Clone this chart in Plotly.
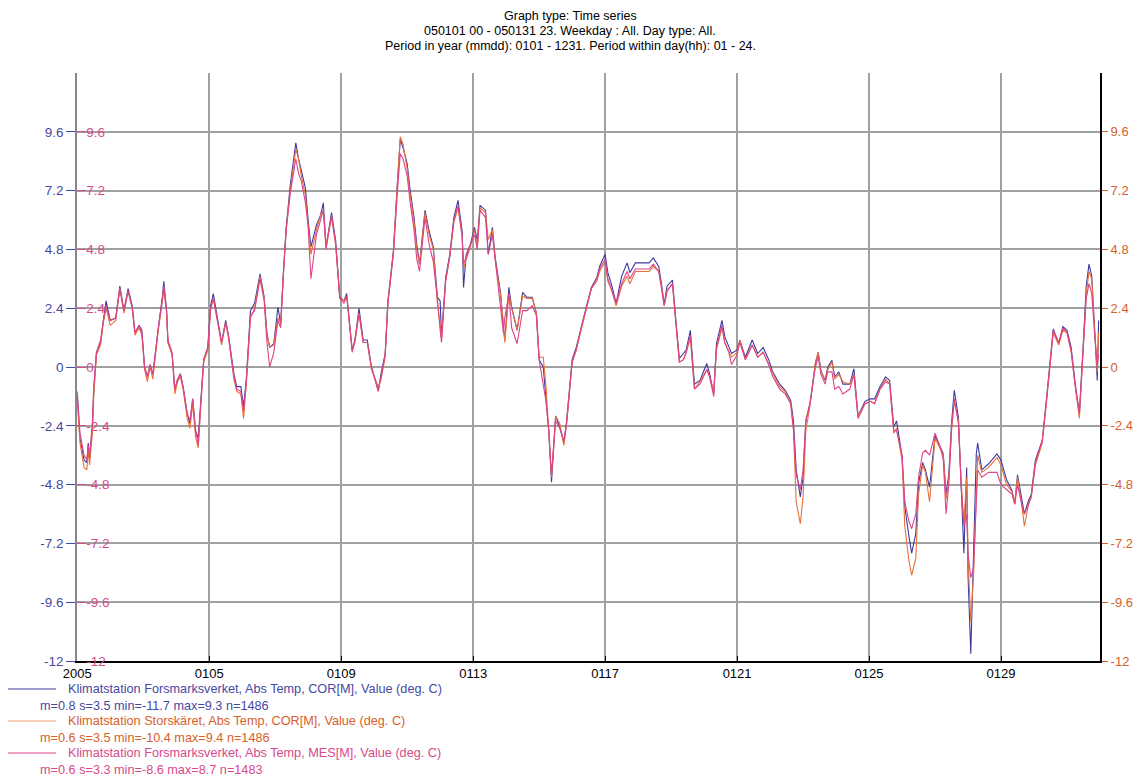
import pandas as pd
import plotly.graph_objects as go

# hours after 2005-01-01 00:00 (deg. C)
HOURS = [
    0, 2, 5, 7, 8, 9, 11, 12, 14, 17, 19, 21, 24, 28, 31, 34, 37, 40, 42, 45,
    47, 49, 51, 53, 55, 57, 59, 62, 63, 65, 66, 69, 71, 73, 75, 77, 80, 82, 84, 86,
    88, 90, 92, 95, 97, 99, 102, 105, 108, 110, 114, 116, 119, 121, 123, 126, 129, 133, 136, 138,
    140, 143, 146, 148, 150, 152, 155, 159, 161, 163, 166, 168, 170, 174, 177, 179, 181, 185, 188, 191,
    194, 196, 200, 202, 205, 208, 211, 214, 219, 221, 224, 226, 230, 233, 235, 237, 240, 242, 245, 247,
    249, 253, 256, 259, 262, 264, 265, 268, 271, 274, 277, 280, 281, 283, 286, 289, 291, 293, 297, 299,
    302, 304, 308, 310, 311, 314, 316, 320, 324, 327, 331, 334, 336, 339, 341, 343, 345, 348, 351, 354,
    356, 360, 363, 367, 371, 374, 378, 380, 384, 386, 389, 392, 396, 400, 402, 406, 411, 416, 419, 423,
    425, 427, 429, 433, 435, 438, 441, 443, 446, 448, 449, 453, 458, 460, 463, 465, 469, 471, 474, 476,
    480, 482, 486, 491, 495, 499, 503, 506, 508, 511, 515, 519, 521, 523, 526, 528, 530, 533, 537, 539,
    541, 544, 546, 549, 551, 554, 557, 562, 565, 568, 573, 577, 580, 584, 588, 591, 594, 596, 600, 602,
    605, 607, 610, 612, 615, 617, 620, 624, 628, 630, 632, 634, 636, 638, 641, 643, 645, 647, 648, 650,
    652, 654, 655, 658, 663, 669, 672, 676, 680, 682, 684, 687, 689, 692, 694, 697, 702, 705, 708, 710,
    714, 717, 720, 723, 726, 729, 732, 734, 736, 738, 740, 742, 743,
]

FORSMARK_COR = [
    -1.1, -2.9, -3.8, -3.9, -3.1, -3.7, -2.5, -1.0, 0.6, 1.0, 1.9, 2.7, 1.9, 2.0, 3.3, 2.3, 3.2, 2.5, 1.4, 1.7,
    1.5, 0.0, -0.4, 0.1, -0.3, 0.7, 1.6, 2.9, 3.5, 2.3, 1.0, 0.55, -0.95, -0.5, -0.27, -0.8, -1.9, -2.3, -1.3, -2.6,
    -2.9, -1.3, 0.3, 0.8, 2.5, 3.0, 2.0, 1.0, 1.9, 1.3, -0.3, -0.8, -0.8, -1.6, -0.5, 2.3, 2.6, 3.8, 2.85, 1.35,
    0.8, 0.95, 2.45, 1.75, 3.9, 5.7, 7.45, 9.15, 8.5, 8.0, 7.3, 6.0, 4.9, 5.8, 6.2, 6.7, 4.9, 6.3, 5.15, 2.85,
    2.7, 3.0, 0.7, 1.1, 2.4, 1.1, 1.1, 0.0, -0.95, -0.27, 0.55, 2.7, 4.75, 7.6, 9.3, 8.95, 8.3, 7.3, 6.1, 5.0,
    4.2, 6.4, 5.55, 4.9, 2.85, 2.7, 1.2, 3.65, 4.6, 6.1, 6.8, 5.55, 3.25, 4.6, 5.0, 5.7, 5.15, 6.6, 6.4, 4.6,
    5.7, 4.5, 3.0, 1.6, 1.1, 3.25, 2.45, 1.5, 3.05, 2.85, 2.85, 2.2, 0.3, 0.0, -1.2, -2.6, -4.7, -2.0, -2.45, -3.1,
    -2.2, 0.3, 0.8, 1.75, 2.6, 3.25, 3.65, 4.1, 4.6, 3.85, 3.3, 2.6, 3.7, 4.25, 3.85, 4.25, 4.25, 4.25, 4.45, 4.1,
    3.4, 2.55, 3.3, 3.55, 2.2, 0.35, 0.55, 0.7, 1.5, 0.14, -0.7, -0.55, 0.14, -0.27, -1.1, 0.95, 1.9, 1.25, 0.8, 0.55,
    0.7, 1.1, 0.4, 1.1, 0.55, 0.8, 0.3, -0.2, -0.4, -0.7, -0.95, -1.35, -2.2, -4.2, -5.3, -4.5, -2.2, -1.5, 0.15, 0.6,
    -0.15, -0.55, 0.0, 0.27, -0.4, -0.2, -0.7, -0.7, -0.07, -2.0, -1.4, -1.3, -1.3, -0.8, -0.4, -0.55, -2.45, -2.2, -3.65, -5.7,
    -6.9, -7.6, -6.8, -4.75, -3.9, -4.2, -4.9, -2.8, -3.3, -3.55, -5.2, -4.4, -2.3, -0.95, -2.05, -4.6, -7.6, -4.1, -8.5, -11.7,
    -7.1, -3.55, -3.1, -4.2, -3.95, -3.55, -3.8, -4.6, -5.05, -5.6, -4.4, -5.45, -6.0, -5.45, -5.2, -3.8, -3.0, -1.35, 0.55, 1.55,
    0.95, 1.65, 1.5, 0.8, -0.7, -1.9, 1.1, 3.3, 4.2, 3.7, 1.65, -0.55, 1.9,
]

STORSKARET_COR = [
    -1.3, -3.1, -4.1, -4.2, -3.4, -4.0, -2.7, -1.2, 0.5, 0.9, 1.8, 2.4, 1.7, 1.9, 3.2, 2.2, 3.1, 2.4, 1.3, 1.6,
    1.3, -0.1, -0.6, 0.0, -0.5, 0.6, 1.5, 2.7, 3.2, 2.2, 1.0, 0.5, -1.1, -0.6, -0.4, -0.9, -2.1, -2.5, -1.5, -2.8,
    -3.3, -1.5, 0.2, 0.7, 2.3, 2.8, 1.9, 0.9, 1.8, 1.2, -0.5, -1.0, -1.1, -2.1, -0.7, 2.0, 2.4, 3.7, 2.8, 1.3,
    0.8, 0.9, 2.0, 1.8, 3.8, 5.6, 7.2, 8.9, 8.5, 7.8, 7.0, 5.9, 4.6, 5.6, 6.2, 6.4, 5.0, 6.1, 5.0, 2.8,
    2.7, 2.9, 0.7, 1.0, 2.2, 1.0, 1.0, -0.1, -0.8, -0.5, 0.4, 2.6, 4.7, 7.6, 9.4, 9.1, 8.1, 7.1, 5.9, 4.8,
    4.2, 6.3, 5.4, 4.8, 2.6, 1.7, 1.2, 3.5, 4.5, 5.9, 6.5, 5.3, 4.0, 4.4, 4.9, 5.6, 4.9, 6.5, 6.3, 5.2,
    5.6, 4.4, 2.9, 1.8, 1.0, 3.0, 2.4, 1.5, 2.9, 2.8, 2.8, 2.2, 0.4, 0.4, -0.8, -2.6, -4.5, -2.0, -2.3, -3.2,
    -2.3, 0.2, 0.7, 1.6, 2.5, 3.2, 3.5, 3.9, 4.3, 3.5, 3.1, 2.5, 3.3, 3.7, 3.4, 3.9, 3.9, 3.9, 4.1, 3.9,
    3.3, 2.5, 3.1, 3.4, 2.1, 0.2, 0.3, 0.6, 1.2, 0.0, -0.9, -0.6, -0.1, -0.4, -1.0, 0.7, 1.6, 1.0, 0.6, 0.4,
    0.6, 1.1, 0.3, 0.9, 0.4, 0.6, 0.1, -0.3, -0.5, -0.8, -1.0, -1.5, -2.6, -5.5, -6.4, -5.3, -2.6, -1.6, 0.2, 0.6,
    -0.2, -0.5, -0.1, 0.2, -0.5, -0.3, -0.6, -0.7, -0.3, -2.0, -1.5, -1.4, -1.5, -0.9, -0.5, -0.7, -2.7, -2.5, -3.8, -6.5,
    -7.9, -8.5, -7.8, -5.2, -4.0, -4.3, -5.5, -2.9, -3.4, -3.6, -5.4, -4.6, -2.6, -1.4, -2.2, -4.7, -6.4, -4.5, -7.8, -10.4,
    -8.5, -4.6, -3.6, -4.3, -4.1, -3.7, -4.0, -4.8, -5.1, -5.5, -4.5, -5.6, -6.5, -5.6, -5.3, -4.0, -3.1, -1.5, 0.4, 1.4,
    0.9, 1.5, 1.4, 0.6, -0.8, -2.1, 0.9, 3.0, 3.9, 3.6, 1.6, -0.2, 1.4,
]

FORSMARK_MES = [
    -1.0, -2.7, -3.6, -3.8, -3.2, -3.6, -2.3, -0.8, 0.6, 1.1, 1.9, 2.5, 1.9, 2.0, 3.2, 2.3, 3.1, 2.4, 1.4, 1.7,
    1.4, 0.0, -0.4, 0.1, -0.3, 0.7, 1.6, 2.8, 3.3, 2.3, 1.1, 0.6, -0.9, -0.5, -0.3, -0.8, -1.9, -2.2, -1.3, -2.5,
    -3.2, -1.4, 0.3, 0.8, 2.4, 2.8, 1.9, 1.0, 1.8, 1.3, -0.4, -0.9, -1.0, -1.8, -0.6, 2.1, 2.3, 3.6, 2.7, 1.0,
    0.0, 0.6, 1.9, 1.6, 3.8, 5.6, 7.1, 8.5, 7.9, 7.6, 6.7, 5.7, 3.6, 5.4, 6.0, 6.4, 4.8, 6.2, 5.0, 2.8,
    2.6, 2.9, 0.6, 1.1, 2.2, 1.0, 1.0, 0.0, -1.0, -0.4, 0.5, 2.6, 4.6, 7.2, 8.7, 8.5, 7.8, 6.8, 5.6, 4.4,
    3.9, 6.1, 5.0, 4.3, 2.8, 1.5, 1.0, 3.5, 4.5, 6.0, 6.6, 5.4, 4.2, 4.5, 5.0, 5.4, 4.8, 6.4, 6.1, 4.6,
    5.4, 4.4, 2.2, 1.4, 2.0, 3.0, 1.6, 0.95, 2.3, 2.3, 2.5, 2.1, 0.3, -0.7, -1.4, -2.6, -4.4, -2.2, -2.5, -3.0,
    -2.3, 0.2, 0.7, 1.7, 2.6, 3.2, 3.6, 4.0, 4.4, 3.6, 3.1, 2.6, 3.4, 3.9, 3.6, 4.0, 4.0, 4.0, 4.2, 3.9,
    3.2, 2.5, 3.1, 3.4, 2.1, 0.2, 0.3, 0.6, 1.3, 0.0, -0.9, -0.7, -0.1, -0.4, -1.2, 0.8, 1.7, 1.0, 0.6, 0.1,
    0.5, 1.0, 0.3, 0.9, 0.4, 0.6, 0.1, -0.4, -0.6, -0.9, -1.1, -1.5, -2.5, -4.4, -5.0, -4.2, -2.2, -1.5, 0.0, 0.4,
    -0.3, -0.7, -0.2, -0.2, -0.9, -0.8, -1.1, -0.9, -0.3, -2.1, -1.5, -1.4, -1.5, -0.9, -0.6, -0.7, -2.6, -2.6, -3.6, -5.5,
    -6.3, -6.6, -6.0, -4.5, -3.5, -3.4, -3.6, -2.7, -3.3, -3.8, -6.0, -4.8, -2.5, -1.3, -2.3, -4.9, -6.5, -6.0, -7.6, -8.6,
    -8.2, -5.5, -4.2, -4.5, -4.3, -4.3, -4.8, -5.0, -5.2, -5.6, -4.8, -5.6, -6.0, -5.6, -5.3, -3.9, -3.0, -1.4, 0.5, 1.5,
    1.0, 1.6, 1.4, 0.7, -0.8, -1.9, 1.0, 2.8, 3.4, 3.0, 1.4, 0.1, 0.5,
]

TICK_DAYS = ['2005-01-01', '2005-01-05', '2005-01-09', '2005-01-13',
             '2005-01-17', '2005-01-21', '2005-01-25', '2005-01-29']
TICK_LABELS = ['2005', '0105', '0109', '0113', '0117', '0121', '0125', '0129']
Y_TICKS = [-12, -9.6, -7.2, -4.8, -2.4, 0, 2.4, 4.8, 7.2, 9.6]

TITLE_LINES = [
    'Graph type: Time series',
    '050101 00 - 050131 23. Weekday : All. Day type: All.',
    'Period in year (mmdd): 0101 - 1231. Period within day(hh): 01 - 24.',
]
NAMES = [
    'Klimatstation Forsmarksverket, Abs Temp, COR[M], Value (deg. C)',
    'Klimatstation Storskäret, Abs Temp, COR[M], Value (deg. C)',
    'Klimatstation Forsmarksverket, Abs Temp, MES[M], Value (deg. C)',
]
STATS = [
    'm=0.8 s=3.5 min=-11.7 max=9.3 n=1486',
    'm=0.6 s=3.5 min=-10.4 max=9.4 n=1486',
    'm=0.6 s=3.3 min=-8.6 max=8.7 n=1483',
]

BLUE = '#3b3ba0'
ORANGE = '#e8703a'
PINK = '#e0438a'
BLUE_TXT = '#4848a0'
ORANGE_TXT = '#d8602a'
PINK_TXT = '#d84a8a'

FONT = 'Liberation Sans, Arial, sans-serif'

times = pd.Timestamp('2005-01-01') + pd.to_timedelta(HOURS, unit='h')

fig = go.Figure()
for vals, col in [(FORSMARK_COR, BLUE), (STORSKARET_COR, ORANGE), (FORSMARK_MES, PINK)]:
    fig.add_trace(go.Scatter(x=times, y=vals, mode='lines',
                             line=dict(color=col, width=1.1), showlegend=False))

# invisible traces so the extra y axes are drawn
fig.add_trace(go.Scatter(x=[times[0]], y=[0], yaxis='y2', mode='markers',
                         marker=dict(opacity=0), showlegend=False, hoverinfo='skip'))
fig.add_trace(go.Scatter(x=[times[0]], y=[0], yaxis='y3', mode='markers',
                         marker=dict(opacity=0), showlegend=False, hoverinfo='skip'))

ticktext = [f'{v:g}' for v in Y_TICKS]

# page body has an 8px margin, so the figure is 8px smaller than the window
fig.update_layout(
    width=1133, height=770,
    margin=dict(l=69, r=41, t=65, b=117, autoexpand=False),
    paper_bgcolor='white', plot_bgcolor='white',
    font=dict(family=FONT, size=12, color='black'),
    xaxis=dict(
        type='date',
        range=['2004-12-31 23:50', '2005-02-01 00:00'],
        tickvals=TICK_DAYS, ticktext=TICK_LABELS,
        showgrid=True, gridcolor='#a0a0a0', gridwidth=1.5,
        ticks='inside', ticklen=5, tickcolor='black',
        showline=True, linecolor='black', linewidth=1.5,
        tickfont=dict(size=13, color='black'),
        ticklabeloverflow='allow',
        zeroline=False,
    ),
    yaxis=dict(
        range=[-12, 12], tickvals=Y_TICKS, ticktext=ticktext,
        showgrid=True, gridcolor='#a0a0a0', gridwidth=1.5,
        ticks='outside', ticklen=9, tickcolor=BLUE_TXT,
        tickfont=dict(size=13.5, color=BLUE_TXT),
        showline=True, linecolor='#888888', linewidth=1.5,
        zeroline=False,
    ),
    yaxis2=dict(
        range=[-12, 12], tickvals=Y_TICKS, ticktext=ticktext,
        overlaying='y', side='left', showgrid=False,
        ticks='inside', ticklen=9, tickcolor=PINK_TXT,
        ticklabelposition='inside', ticklabeloverflow='allow',
        tickfont=dict(size=13.5, color=PINK_TXT),
        zeroline=False,
    ),
    yaxis3=dict(
        range=[-12, 12], tickvals=Y_TICKS, ticktext=ticktext,
        overlaying='y', side='right', showgrid=False,
        ticks='outside', ticklen=6, tickcolor=ORANGE_TXT,
        tickfont=dict(size=13, color=ORANGE_TXT),
        showline=True, linecolor='black', linewidth=2,
        zeroline=False,
    ),
)

# helpers: window pixel -> paper coordinates
def px_x(px):
    return (px - 77) / 1023
def px_y(py):
    return (661 - py) / 588

for i, line in enumerate(TITLE_LINES):
    fig.add_annotation(xref='paper', yref='paper', x=px_x(570), y=px_y(16 + 15 * i),
                       text=line, showarrow=False, xanchor='center', yanchor='middle',
                       font=dict(size=12.5, color='black'))

# legend block under the plot: colour sample, name, then stats line
line_cols = [BLUE, '#f0a070', PINK]
text_cols = [BLUE_TXT, ORANGE_TXT, PINK_TXT]
for i in range(3):
    y0 = 689 + 32 * i
    fig.add_shape(type='line', xref='paper', yref='paper',
                  x0=px_x(2), x1=px_x(56), y0=px_y(y0), y1=px_y(y0),
                  line=dict(color=line_cols[i], width=1.2))
    fig.add_annotation(xref='paper', yref='paper', x=px_x(66), y=px_y(y0),
                       text=NAMES[i], showarrow=False, xanchor='left', yanchor='middle',
                       font=dict(size=12.7, color=text_cols[i]))
    fig.add_annotation(xref='paper', yref='paper', x=px_x(38), y=px_y(y0 + 17),
                       text=STATS[i], showarrow=False, xanchor='left', yanchor='middle',
                       font=dict(size=12.7, color=text_cols[i]))

fig.write_html('out.html')
